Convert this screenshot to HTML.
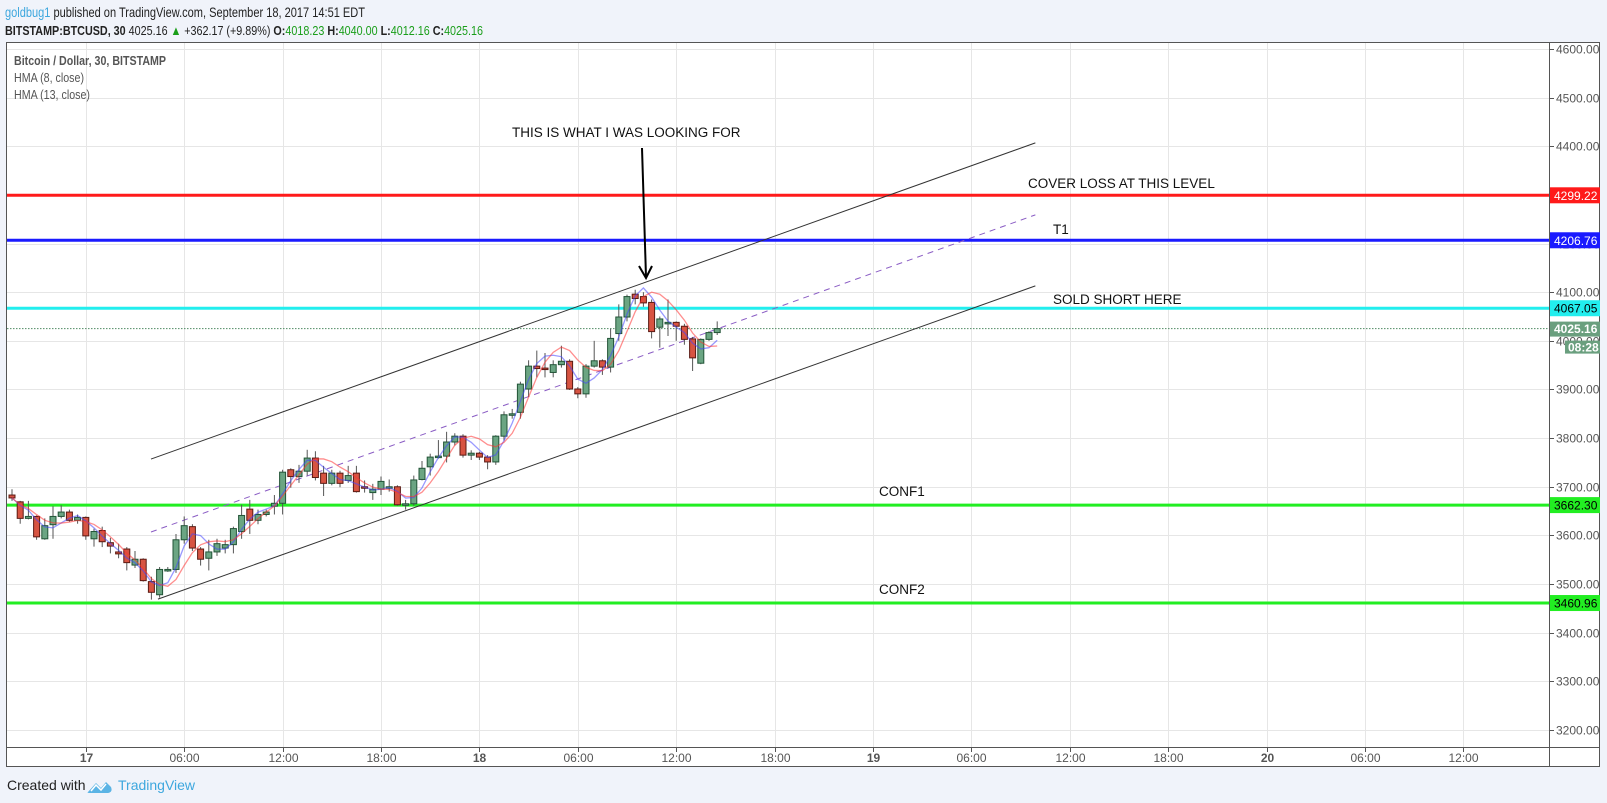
<!DOCTYPE html>
<html><head><meta charset="utf-8"><style>
html,body{margin:0;padding:0;background:#f0f3fa;}
svg{display:block;font-family:"Liberation Sans",sans-serif;}
</style></head><body>
<svg id="c" width="1607" height="803" viewBox="0 0 1607 803">
<rect x="0" y="0" width="1607" height="803" fill="#f0f3fa"/>
<text x="5" y="17" font-size="14" textLength="360" lengthAdjust="spacingAndGlyphs" fill="#222"><tspan fill="#3da7de">goldbug1</tspan> published on TradingView.com, September 18, 2017 14:51 EDT</text>
<text x="5" y="35" font-size="13" font-weight="bold" textLength="478" lengthAdjust="spacingAndGlyphs" fill="#222">BITSTAMP:BTCUSD, 30 <tspan font-weight="normal">4025.16 </tspan><tspan fill="#1a9e1a">▲</tspan><tspan font-weight="normal"> +362.17 (+9.89%) </tspan>O:<tspan fill="#1a9e1a" font-weight="normal">4018.23 </tspan>H:<tspan fill="#1a9e1a" font-weight="normal">4040.00 </tspan>L:<tspan fill="#1a9e1a" font-weight="normal">4012.16 </tspan>C:<tspan fill="#1a9e1a" font-weight="normal">4025.16</tspan></text>
<rect x="6.5" y="42.5" width="1593" height="724" fill="#fff" stroke="#555"/>
<g id="grid"></g>
<g id="hlines"></g>
<g id="draw"></g>
<g id="candles"></g>
<g id="hma"></g>
<line x1="7" y1="747.5" x2="1600" y2="747.5" stroke="#555"/>
<line x1="1549.5" y1="43" x2="1549.5" y2="767" stroke="#555"/>
<g id="axes"></g>
<text x="14" y="65" font-size="12.5" font-weight="bold" fill="#555" textLength="152" lengthAdjust="spacingAndGlyphs">Bitcoin / Dollar, 30, BITSTAMP</text>
<text x="14" y="82" font-size="12.5" fill="#555" textLength="70" lengthAdjust="spacingAndGlyphs">HMA (8, close)</text>
<text x="14" y="99" font-size="12.5" fill="#555" textLength="76" lengthAdjust="spacingAndGlyphs">HMA (13, close)</text>
<text x="7" y="790" font-size="14" fill="#222">Created with</text>
<g>
<path d="M88 792 L96 783 L101 788 L106 782 L111 787 Q113 792 108 793 L91 793 Q86 793 88 792Z" fill="#5bb4e5"/>
<path d="M91 791 L96 785 L101 790 L106 784" fill="none" stroke="#fff" stroke-width="1.5"/>
</g>
<text x="118" y="790" font-size="14" fill="#3da7de">TradingView</text>
</svg>
<script>
const opens  = [3683,3669,3635,3639,3593,3622,3639,3648,3631,3637,3593,3610,3585,3566,3572,3539,3551,3505,3478,3530,3530,3591,3618,3572,3553,3566,3574,3581,3608,3654,3631,3643,3660,3666,3735,3721,3732,3759,3728,3707,3728,3713,3728,3700,3688,3695,3700,3700,3663,3665,3715,3741,3763,3763,3792,3804,3765,3769,3761,3751,3804,3848,3853,3901,3948,3944,3935,3951,3958,3901,3891,3948,3959,3946,4015,4049,4096,4091,4079,4028,4038,4038,4030,4004,3954,4003,4017];
const closes = [3677,3635,3639,3597,3620,3639,3648,3631,3637,3599,3608,3587,3578,3562,3544,3551,3507,3483,3530,3530,3591,3620,3574,3551,3566,3583,3581,3614,3641,3631,3643,3648,3666,3730,3721,3732,3759,3719,3707,3728,3707,3723,3690,3697,3695,3711,3700,3663,3665,3714,3738,3761,3763,3792,3804,3765,3769,3761,3751,3804,3848,3850,3911,3948,3943,3943,3951,3958,3901,3891,3948,3959,3946,4005,4049,4091,4087,4078,4019,4045,4038,4030,4003,3965,4003,4017,4025.16];
const highs  = [3695,3671,3671,3641,3635,3660,3662,3653,3643,3639,3614,3618,3595,3583,3576,3568,3553,3515,3535,3535,3603,3639,3623,3576,3591,3593,3591,3618,3663,3673,3653,3653,3683,3735,3738,3745,3776,3773,3743,3735,3733,3743,3743,3713,3706,3721,3715,3703,3673,3723,3753,3768,3796,3813,3810,3808,3775,3772,3765,3806,3855,3860,3916,3960,3980,3975,3960,3990,3962,3905,3952,4000,3962,4025,4075,4095,4105,4100,4085,4050,4085,4040,4035,4008,4005,4020,4040];
const lows   = [3671,3624,3633,3591,3591,3593,3635,3628,3624,3591,3577,3576,3563,3553,3528,3533,3505,3468,3472,3525,3523,3583,3568,3538,3528,3558,3563,3563,3593,3603,3623,3639,3643,3643,3698,3708,3723,3713,3681,3703,3699,3708,3688,3688,3673,3683,3690,3661,3653,3661,3713,3723,3758,3750,3785,3760,3755,3755,3736,3745,3795,3840,3840,3885,3925,3925,3925,3945,3899,3882,3883,3945,3930,3935,4000,4040,4075,4070,4005,3986,4010,4000,3992,3938,3952,4000,4012];
const priceTicks = [4600,4500,4400,4300,4200,4100,4000,3900,3800,3700,3600,3500,3400,3300,3200];
const timeLabels = ["17","06:00","12:00","18:00","18","06:00","12:00","18:00","19","06:00","12:00","18:00","20","06:00","12:00"];
const levelPrices = [4299.22,4206.76,4067.05,3662.30,3460.96];
const levelNames = ["cover-loss-level","t1-level","sold-short-level","conf1-level","conf2-level"];
const levelColors = ["#ff1a1a","#1a1aff","#22eeee","#22ee22","#22ee22"];
const levelText = ["#fff","#fff","#000","#000","#000"];
const lastPrice = 4025.16;

const NS="http://www.w3.org/2000/svg";
const X0=12, DX=8.2, Y4600=49, PXP=0.4864;
function xS(i){return X0+i*DX;}
function yS(p){return Y4600+(4600-p)*PXP;}
function mk(tag,attrs,parent){const e=document.createElementNS(NS,tag);for(const k in attrs)e.setAttribute(k,attrs[k]);parent.appendChild(e);return e;}
const grid=document.getElementById('grid'),axes=document.getElementById('axes'),cg=document.getElementById('candles'),hl=document.getElementById('hlines'),dr=document.getElementById('draw'),hm=document.getElementById('hma');

priceTicks.forEach(p=>{const y=Math.round(yS(p))+0.5;
 const l=mk('line',{x1:7,x2:1549,y1:y,y2:y,stroke:'#e6e6e6'},grid);
 
 
 const t=mk('line',{x1:1549,x2:1554,y1:y,y2:y,stroke:'#555'},axes);
 
 
 const tx=mk('text',{x:1556,y:y+4,'font-size':12,fill:'#555'},axes);tx.textContent=p.toFixed(2);
 
 
});
timeLabels.forEach((s,k)=>{const x=Math.round(xS(9+12*k))+0.5;
 const l=mk('line',{x1:x,x2:x,y1:43,y2:747,stroke:'#e6e6e6'},grid);
 
 
 const t=mk('line',{x1:x,x2:x,y1:747,y2:752,stroke:'#555'},axes);
 
 
 const tx=mk('text',{x:x,y:762,'font-size':12,fill:'#555','text-anchor':'middle','font-weight':s.length<3?'bold':'normal'},axes);tx.textContent=s;
 
 
});
// last price dotted line
const dl=mk('line',{x1:7,x2:1549,y1:yS(lastPrice),y2:yS(lastPrice),stroke:'#4f8a63','stroke-dasharray':'1.5,1.5'},hl);


levelPrices.forEach((p,k)=>{const y=yS(p);
 const l=mk('line',{x1:7,x2:1549,y1:y,y2:y,stroke:levelColors[k],'stroke-width':3},hl);
 
 
 const r=mk('rect',{x:1550,y:y-8,width:50,height:16,fill:levelColors[k]},axes);
 
 
 const t=mk('text',{x:1554,y:y+4.5,'font-size':12,fill:levelText[k]},axes);t.textContent=p.toFixed(2);
 
 
});
{const y=yS(lastPrice);
 const r=mk('rect',{x:1550,y:y-7,width:50,height:15,fill:'#6a9f7e'},axes);
 
 
 const t=mk('text',{x:1554,y:y+4.5,'font-size':12,'font-weight':'bold',fill:'#fff'},axes);t.textContent=lastPrice.toFixed(2);
 
 
 const r2=mk('rect',{x:1565,y:y+12,width:35,height:13,fill:'#6a9f7e'},axes);
 
 
 const t2=mk('text',{x:1568,y:y+23,'font-size':12,'font-weight':'bold',fill:'#fff'},axes);t2.textContent='08:28';
 
 
}
// channel drawings (index, price)
const chan=[["upper-channel-line",16.95,3757,124.8,4407,""],["lower-channel-line",17.8,3469,124.8,4113,""],["mid-channel-line",16.95,3607,124.8,4259,"6,5"]];
chan.forEach(c=>{const l=mk('line',{x1:xS(c[1]),y1:yS(c[2]),x2:xS(c[3]),y2:yS(c[4]),stroke:c[5]?'#8a5cc4':'#333','stroke-width':1,'stroke-dasharray':c[5]||'none'},dr);
 
 
});
{const a=mk('line',{x1:642,y1:148,x2:646,y2:277,stroke:'#000','stroke-width':2},dr);
 
 
 const h=mk('path',{d:'M639 266 L646 278 L652 266',fill:'none',stroke:'#000','stroke-width':2},dr);
 
 
}
const notes=[["annotation-looking-for",512,137,"THIS IS WHAT I WAS LOOKING FOR"],["annotation-cover-loss",1028,188,"COVER LOSS AT THIS LEVEL"],["annotation-t1",1053,234,"T1"],["annotation-sold-short",1053,304,"SOLD SHORT HERE"],["annotation-conf1",879,496,"CONF1"],["annotation-conf2",879,594,"CONF2"]];
notes.forEach(n=>{const t=mk('text',{x:n[1],y:n[2],'font-size':13.5,fill:'#111'},dr);t.textContent=n[3];
 
 
});
// candles
closes.forEach((c,i)=>{const o=opens[i],x=xS(i),up=c>=o;
 const w=mk('line',{x1:x,x2:x,y1:yS(highs[i]),y2:yS(lows[i]),stroke:'#555'},cg);
 
 
 const top=yS(Math.max(o,c)),h=Math.max(1.5,yS(Math.min(o,c))-top);
 const b=mk('rect',{x:x-3,y:top,width:6,height:h,fill:up?'#6ba583':'#d75442',stroke:up?'#225437':'#5b1a13','stroke-width':1},cg);
 
 
});
// HMA computed from closes
function wma(arr,n,i){let s=0,ws=0;for(let k=0;k<n&&i-k>=0;k++){const w=n-k;s+=arr[i-k]*w;ws+=w;}return s/ws;}
function hmaSeries(n){const h=Math.floor(n/2),sq=Math.round(Math.sqrt(n));const d=closes.map((_,i)=>2*wma(closes,h,i)-wma(closes,n,i));return d.map((_,i)=>wma(d,sq,i));}
[[8,'rgba(70,70,255,0.55)','hma-8-line'],[13,'rgba(255,50,50,0.55)','hma-13-line']].forEach(s=>{const v=hmaSeries(s[0]);
 const p=mk('polyline',{points:v.map((y,i)=>xS(i)+','+yS(y)).join(' '),fill:'none',stroke:s[1],'stroke-width':1.3},hm);
 
 
});
</script>
</body></html>
